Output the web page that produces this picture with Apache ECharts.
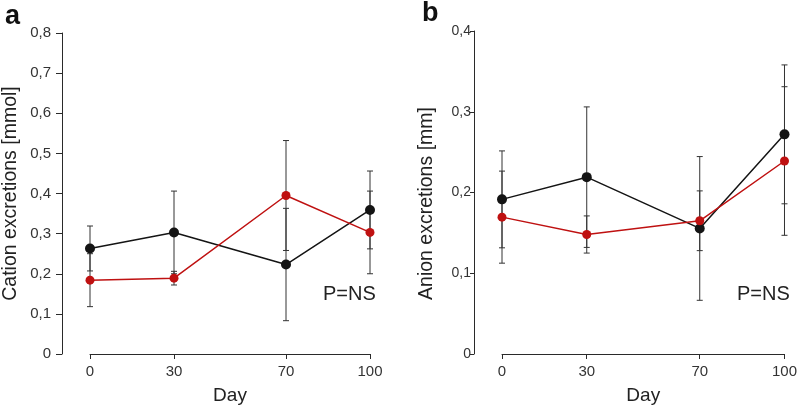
<!DOCTYPE html>
<html>
<head>
<meta charset="utf-8">
<script src="https://cdn.jsdelivr.net/npm/echarts@6/dist/echarts.min.js"></script>
<style>
html,body{margin:0;padding:0;background:#fff;}
#chart{width:800px;height:410px;}
</style>
</head>
<body>
<div id="chart"></div>
<script>
// ---- data ----
const days = [0, 30, 70, 100];
const xTickLabels = ['0', '30', '70', '100'];
const yTickLabelsA = ['0', '0,1', '0,2', '0,3', '0,4', '0,5', '0,6', '0,7', '0,8'];
const yTickLabelsB = ['0', '0,1', '0,2', '0,3', '0,4'];

const cationBlack    = [0.263, 0.303, 0.223, 0.359];
const cationBlackErr = [0.056, 0.103, 0.140, 0.097];
const cationRed      = [0.184, 0.189, 0.395, 0.303];
const cationRedErr   = [0.066, 0.017, 0.137, 0.103];

const anionBlack     = [0.1915, 0.219, 0.1555, 0.272];
const anionBlackErr  = [0.060, 0.087, 0.089, 0.086];
const anionRed       = [0.1695, 0.148, 0.165, 0.239];
const anionRedErr    = [0.057, 0.023, 0.037, 0.092];

const panelTitles = ['a', 'b'];
const yNames = ['Cation excretions [mmol]', 'Anion excretions [mm]'];
const xName = 'Day';
const pText = 'P=NS';

// ---- helpers ----
const FONT = "'Liberation Sans', Arial, Helvetica, sans-serif";
const BLACK = '#141414';
const RED = '#bf1111';
const AXIS = '#2a2a2a';

function pts(vals) { return vals.map((v, i) => [days[i], v]); }
function errPts(vals, errs) { return vals.map((v, i) => [days[i], v - errs[i], v + errs[i]]); }

function errSeries(vals, errs, axisIdx) {
  return {
    type: 'custom',
    xAxisIndex: axisIdx, yAxisIndex: axisIdx,
    z: 1,
    silent: true,
    encode: { x: 0, y: [1, 2] },
    data: errPts(vals, errs),
    renderItem: function (params, api) {
      const x = api.value(0);
      const top = api.coord([x, api.value(2)]);
      const bot = api.coord([x, api.value(1)]);
      const hw = 3;
      const st = { stroke: '#333', lineWidth: 1 };
      return {
        type: 'group',
        children: [
          { type: 'line', shape: { x1: top[0], y1: top[1], x2: bot[0], y2: bot[1] }, style: st },
          { type: 'line', shape: { x1: top[0] - hw, y1: top[1], x2: top[0] + hw, y2: top[1] }, style: st },
          { type: 'line', shape: { x1: bot[0] - hw, y1: bot[1], x2: bot[0] + hw, y2: bot[1] }, style: st }
        ]
      };
    }
  };
}

function lineSeries(vals, color, axisIdx, size) {
  return {
    type: 'line',
    xAxisIndex: axisIdx, yAxisIndex: axisIdx,
    z: 3,
    data: pts(vals),
    symbol: 'circle',
    symbolSize: size,
    showSymbol: true,
    lineStyle: { color: color, width: 1.5 },
    itemStyle: { color: color },
    animation: false
  };
}

function xAxisDef(idx) {
  return {
    type: 'value', gridIndex: idx, min: 0, max: 100,
    name: xName, nameLocation: 'middle', nameGap: 32,
    nameTextStyle: { fontFamily: FONT, fontSize: 19, color: '#222' },
    axisLine: { show: true, onZero: false, lineStyle: { color: AXIS, width: 1 } },
    axisTick: { show: true, length: 5, customValues: days, lineStyle: { color: AXIS } },
    axisLabel: {
      show: true, margin: 10, customValues: days,
      fontFamily: FONT, fontSize: 15, color: '#333',
      formatter: function (v) { return xTickLabels[days.indexOf(v)]; }
    },
    splitLine: { show: false }
  };
}

function yAxisDef(idx, max, labels, offset, nameGap, margin, tickLen, namePad, fs) {
  return {
    type: 'value', gridIndex: idx, min: 0, max: max, interval: 0.1,
    position: 'left',
    offset: offset,
    name: yNames[idx], nameLocation: 'middle', nameGap: nameGap, nameRotate: 90,
    nameTextStyle: { fontFamily: FONT, fontSize: 19.5, color: '#222', padding: namePad },
    axisLine: { show: true, onZero: false, lineStyle: { color: AXIS, width: 1 } },
    axisTick: { show: true, length: tickLen, lineStyle: { color: AXIS } },
    axisLabel: {
      show: true, margin: margin, fontFamily: FONT, fontSize: fs, color: '#333',
      formatter: function (v) { return labels[Math.round(v * 10)]; }
    },
    splitLine: { show: false }
  };
}

const chart = echarts.init(document.getElementById('chart'), null, { renderer: 'canvas' });
chart.setOption({
  animation: false,
  backgroundColor: '#fff',
  grid: [
    { left: 89, top: 33, width: 281, height: 323 },
    { left: 502, top: 31, width: 285, height: 327 }
  ],
  xAxis: [xAxisDef(0), xAxisDef(1)],
  yAxis: [
    yAxisDef(0, 0.8, yTickLabelsA, 28, 41, 11, 6, [0, 0, 0, 0], 15),
    yAxisDef(1, 0.4, yTickLabelsB, 28, 37, 3, 4, [0, 22, 0, 0], 14)
  ],
  series: [
    errSeries(cationBlack, cationBlackErr, 0),
    errSeries(cationRed, cationRedErr, 0),
    errSeries(anionBlack, anionBlackErr, 1),
    errSeries(anionRed, anionRedErr, 1),
    lineSeries(cationBlack, BLACK, 0, 10),
    lineSeries(cationRed, RED, 0, 9),
    lineSeries(anionBlack, BLACK, 1, 10),
    lineSeries(anionRed, RED, 1, 9)
  ],
  graphic: [
    { type: 'text', left: 5, top: 3, style: { text: panelTitles[0], font: 'bold 27px ' + FONT, fill: '#111' } },
    { type: 'text', left: 422, top: 0, style: { text: panelTitles[1], font: 'bold 27px ' + FONT, fill: '#111' } },
    { type: 'text', left: 323, top: 284, style: { text: pText, font: '20px ' + FONT, fill: '#222' } },
    { type: 'text', left: 737, top: 284, style: { text: pText, font: '20px ' + FONT, fill: '#222' } }
  ]
});
</script>
</body>
</html>
